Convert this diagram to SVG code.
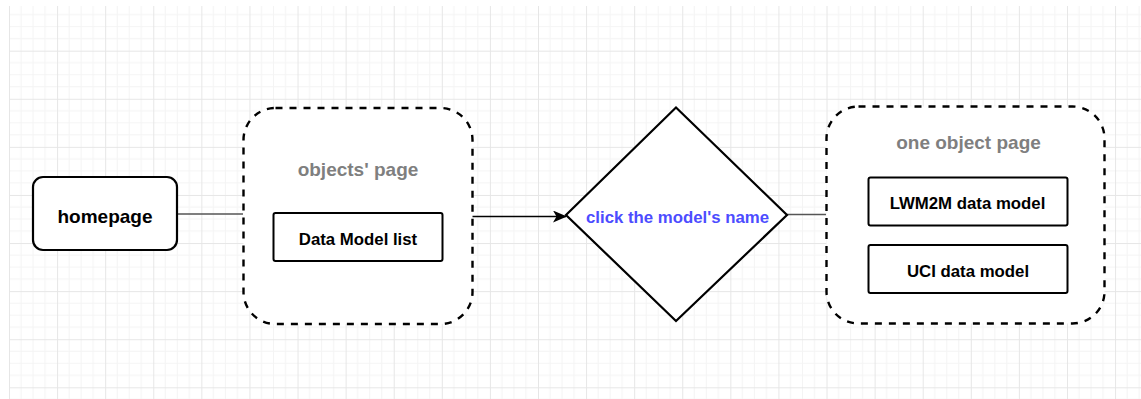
<svg xmlns="http://www.w3.org/2000/svg" width="1141" height="399" viewBox="0 0 1141 399">
  <defs>
    <pattern id="grid" patternUnits="userSpaceOnUse" x="9" y="2.6" width="48.09" height="48.09">
      <path d="M12.02 0V48.09M24.05 0V48.09M36.07 0V48.09M0 12.02H48.09M0 24.05H48.09M0 36.07H48.09" stroke="#f4f4f4" stroke-width="1" fill="none"/>
      <path d="M0.5 0V48.09M0 0.5H48.09" stroke="#e6e6e6" stroke-width="1" fill="none"/>
    </pattern>
    <marker id="arrow" viewBox="0 0 14 12" refX="13" refY="6" markerWidth="14" markerHeight="12" markerUnits="userSpaceOnUse" orient="auto">
      <path d="M0 0 L14 6 L0 12 L3.5 6 Z" fill="#000"/>
    </marker>
    <style>
      .solid { fill: #fff; stroke: #000; stroke-width: 2.2; }
      .dashed { fill: #fff; stroke: #000; stroke-width: 2.4; stroke-dasharray: 7 7; }
      .inner { fill: #fff; stroke: #000; stroke-width: 2; }
      .title { font-family: "Liberation Sans", Arial, sans-serif; font-weight: bold; font-size: 19px; fill: #7f7f7f; text-anchor: middle; }
      .label { font-family: "Liberation Sans", Arial, sans-serif; font-weight: bold; font-size: 16.8px; fill: #000; text-anchor: middle; }
      .big { font-size: 19px; }
      .blue { fill: #4c4cff; }
      .conn { fill: none; stroke: #555; stroke-width: 1.5; }
      .conn-dark { fill: none; stroke: #000; stroke-width: 1.7; }
    </style>
  </defs>
  <rect width="1141" height="399" fill="#fff"/>
  <rect x="9" y="6" width="1132" height="393" fill="url(#grid)"/>

  <g id="connectors">
    <line class="conn" x1="177" y1="214" x2="243" y2="214"/>
    <line class="conn-dark" x1="472" y1="216.5" x2="566" y2="216.5" marker-end="url(#arrow)"/>
    <line class="conn" x1="787" y1="214.5" x2="826" y2="214.5"/>
  </g>

  <g id="homepage">
    <rect class="solid" x="33" y="177" width="144" height="73" rx="10"/>
    <text class="label big" x="105" y="223">homepage</text>
  </g>

  <g id="objects-page">
    <rect class="dashed" x="243.5" y="108" width="229" height="216" rx="32"/>
    <text class="title" x="358" y="176">objects' page</text>
  </g>

  <g id="data-model-list">
    <rect class="inner" x="273.5" y="213" width="169" height="48" rx="2"/>
    <text class="label" x="358" y="245">Data Model list</text>
  </g>

  <g id="decision">
    <polygon class="solid" points="676,107.5 787,215 676,321 566,215"/>
    <text class="label blue" x="677.5" y="222.5">click the model's name</text>
  </g>

  <g id="one-object-page">
    <rect class="dashed" x="826.5" y="106.5" width="278" height="217" rx="32"/>
    <text class="title" x="968.5" y="149">one object page</text>
  </g>

  <g id="lwm2m-data-model">
    <rect class="inner" x="868.5" y="177.5" width="199" height="48" rx="2"/>
    <text class="label" x="967.5" y="209">LWM2M data model</text>
  </g>

  <g id="uci-data-model">
    <rect class="inner" x="868.5" y="245" width="199" height="48" rx="2"/>
    <text class="label" x="968" y="276.5">UCI data model</text>
  </g>
</svg>
